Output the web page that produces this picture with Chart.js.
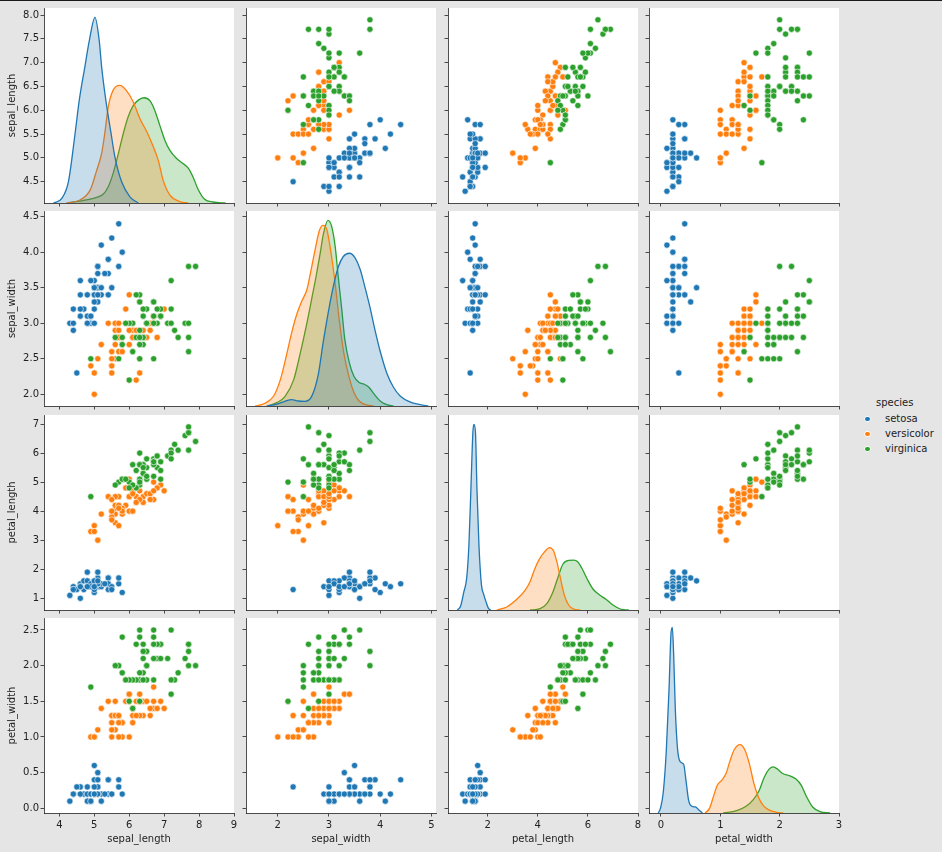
<!DOCTYPE html>
<html>
<head>
<meta charset="utf-8">
<title>Iris pairplot</title>
<script src="https://cdn.jsdelivr.net/npm/chart.js@4.4.0/dist/chart.umd.min.js"></script>
<style>
  html, body { margin: 0; padding: 0; }
  body {
    width: 942px; height: 852px; position: relative; overflow: hidden;
    background: #e5e5e5; font-family: 'DejaVu Sans', sans-serif; color: #222;
  }
  #topline { position: absolute; left: 0; top: 0; width: 942px; height: 1px; background: #1a1a1a; }
  canvas { position: absolute; }
  .lg { position: absolute; font-size: 10px; line-height: 12px; white-space: nowrap; }
  .dot { position: absolute; width: 6.6px; height: 6.6px; border-radius: 50%; box-sizing: border-box; border: 0.5px solid #fff; }
</style>
</head>
<body>
<div id="topline"></div>
<script>
// Iris pairplot — 4x4 grid of small Chart.js charts, diagonal = KDE per species
const varNames = ['sepal_length', 'sepal_width', 'petal_length', 'petal_width'];
const species = ['setosa', 'versicolor', 'virginica'];
const speciesColors = ['#1f77b4', '#ff7f0e', '#2ca02c'];
const speciesFills = ['rgba(31,119,180,0.25)', 'rgba(255,127,14,0.25)', 'rgba(44,160,44,0.25)'];

// measurements per species (same row order in every array)
const setosaSepalLength = [5.1,4.9,4.7,4.6,5.0,5.4,4.6,5.0,4.4,4.9,5.4,4.8,4.8,4.3,5.8,5.7,5.4,5.1,5.7,5.1,5.4,5.1,4.6,5.1,4.8,5.0,5.0,5.2,5.2,4.7,4.8,5.4,5.2,5.5,4.9,5.0,5.5,4.9,4.4,5.1,5.0,4.5,4.4,5.0,5.1,4.8,5.1,4.6,5.3,5.0];
const setosaSepalWidth = [3.5,3.0,3.2,3.1,3.6,3.9,3.4,3.4,2.9,3.1,3.7,3.4,3.0,3.0,4.0,4.4,3.9,3.5,3.8,3.8,3.4,3.7,3.6,3.3,3.4,3.0,3.4,3.5,3.4,3.2,3.1,3.4,4.1,4.2,3.1,3.2,3.5,3.6,3.0,3.4,3.5,2.3,3.2,3.5,3.8,3.0,3.8,3.2,3.7,3.3];
const setosaPetalLength = [1.4,1.4,1.3,1.5,1.4,1.7,1.4,1.5,1.4,1.5,1.5,1.6,1.4,1.1,1.2,1.5,1.3,1.4,1.7,1.5,1.7,1.5,1.0,1.7,1.9,1.6,1.6,1.5,1.4,1.6,1.6,1.5,1.5,1.4,1.5,1.2,1.3,1.4,1.3,1.5,1.3,1.3,1.3,1.6,1.9,1.4,1.6,1.4,1.5,1.4];
const setosaPetalWidth = [0.2,0.2,0.2,0.2,0.2,0.4,0.3,0.2,0.2,0.1,0.2,0.2,0.1,0.1,0.2,0.4,0.4,0.3,0.3,0.3,0.2,0.4,0.2,0.5,0.2,0.2,0.4,0.2,0.2,0.2,0.2,0.4,0.1,0.2,0.2,0.2,0.2,0.1,0.2,0.2,0.3,0.3,0.2,0.6,0.4,0.3,0.2,0.2,0.2,0.2];

const versicolorSepalLength = [7.0,6.4,6.9,5.5,6.5,5.7,6.3,4.9,6.6,5.2,5.0,5.9,6.0,6.1,5.6,6.7,5.6,5.8,6.2,5.6,5.9,6.1,6.3,6.1,6.4,6.6,6.8,6.7,6.0,5.7,5.5,5.5,5.8,6.0,5.4,6.0,6.7,6.3,5.6,5.5,5.5,6.1,5.8,5.0,5.6,5.7,5.7,6.2,5.1,5.7];
const versicolorSepalWidth = [3.2,3.2,3.1,2.3,2.8,2.8,3.3,2.4,2.9,2.7,2.0,3.0,2.2,2.9,2.9,3.1,3.0,2.7,2.2,2.5,3.2,2.8,2.5,2.8,2.9,3.0,2.8,3.0,2.9,2.6,2.4,2.4,2.7,2.7,3.0,3.4,3.1,2.3,3.0,2.5,2.6,3.0,2.6,2.3,2.7,3.0,2.9,2.9,2.5,2.8];
const versicolorPetalLength = [4.7,4.5,4.9,4.0,4.6,4.5,4.7,3.3,4.6,3.9,3.5,4.2,4.0,4.7,3.6,4.4,4.5,4.1,4.5,3.9,4.8,4.0,4.9,4.7,4.3,4.4,4.8,5.0,4.5,3.5,3.8,3.7,3.9,5.1,4.5,4.5,4.7,4.4,4.1,4.0,4.4,4.6,4.0,3.3,4.2,4.2,4.2,4.3,3.0,4.1];
const versicolorPetalWidth = [1.4,1.5,1.5,1.3,1.5,1.3,1.6,1.0,1.3,1.4,1.0,1.5,1.0,1.4,1.3,1.4,1.5,1.0,1.5,1.1,1.8,1.3,1.5,1.2,1.3,1.4,1.4,1.7,1.5,1.0,1.1,1.0,1.2,1.6,1.5,1.6,1.5,1.3,1.3,1.3,1.2,1.4,1.2,1.0,1.3,1.2,1.3,1.3,1.1,1.3];

const virginicaSepalLength = [6.3,5.8,7.1,6.3,6.5,7.6,4.9,7.3,6.7,7.2,6.5,6.4,6.8,5.7,5.8,6.4,6.5,7.7,7.7,6.0,6.9,5.6,7.7,6.3,6.7,7.2,6.2,6.1,6.4,7.2,7.4,7.9,6.4,6.3,6.1,7.7,6.3,6.4,6.0,6.9,6.7,6.9,5.8,6.8,6.7,6.7,6.3,6.5,6.2,5.9];
const virginicaSepalWidth = [3.3,2.7,3.0,2.9,3.0,3.0,2.5,2.9,2.5,3.6,3.2,2.7,3.0,2.5,2.8,3.2,3.0,3.8,2.6,2.2,3.2,2.8,2.8,2.7,3.3,3.2,2.8,3.0,2.8,3.0,2.8,3.8,2.8,2.8,2.6,3.0,3.4,3.1,3.0,3.1,3.1,3.1,2.7,3.2,3.3,3.0,2.5,3.0,3.4,3.0];
const virginicaPetalLength = [6.0,5.1,5.9,5.6,5.8,6.6,4.5,6.3,5.8,6.1,5.1,5.3,5.5,5.0,5.1,5.3,5.5,6.7,6.9,5.0,5.7,4.9,6.7,4.9,5.7,6.0,4.8,4.9,5.6,5.8,6.1,6.4,5.6,5.1,5.6,6.1,5.6,5.5,4.8,5.4,5.6,5.1,5.1,5.9,5.7,5.2,5.0,5.2,5.4,5.1];
const virginicaPetalWidth = [2.5,1.9,2.1,1.8,2.2,2.1,1.7,1.8,1.8,2.5,2.0,1.9,2.1,2.0,2.4,2.3,1.8,2.2,2.3,1.5,2.3,2.0,2.0,1.8,2.1,1.8,1.8,1.8,2.1,1.6,1.9,2.0,2.2,1.5,1.4,2.3,2.4,1.8,1.8,2.1,2.4,2.3,1.9,2.3,2.5,2.3,1.9,2.0,2.3,1.8];

// density curves: [value, density]
const kdeSepalLengthSetosa = [[3.83,0],[4.07,0.0098],[4.26,0.045],[4.45,0.146],[4.57,0.216],[4.73,0.286],[4.86,0.342],[5.02,0.39],[5.14,0.342],[5.21,0.286],[5.33,0.216],[5.48,0.146],[5.59,0.097],[5.78,0.045],[6.02,0.013],[6.26,0]];
const kdeSepalLengthVersicolor = [[4.21,0],[4.59,0.0063],[4.88,0.027],[5.07,0.069],[5.21,0.104],[5.30,0.146],[5.40,0.202],[5.54,0.237],[5.73,0.247],[5.92,0.236],[6.11,0.213],[6.30,0.178],[6.50,0.150],[6.69,0.118],[6.83,0.090],[6.97,0.048],[7.16,0.017],[7.45,0.003],[7.69,0]];
const kdeSepalLengthVirginica = [[4.21,0],[4.69,0.0056],[5.07,0.0119],[5.26,0.0189],[5.40,0.0343],[5.54,0.0623],[5.69,0.104],[5.83,0.146],[5.97,0.181],[6.11,0.204],[6.26,0.216],[6.42,0.221],[6.59,0.215],[6.73,0.195],[6.88,0.162],[7.02,0.132],[7.16,0.111],[7.35,0.094],[7.54,0.083],[7.69,0.073],[7.83,0.054],[7.97,0.029],[8.16,0.0077],[8.40,0.0021],[8.76,0]];

const kdeSepalWidthSetosa = [[1.785,0],[1.98,0.0043],[2.14,0.0101],[2.27,0.0137],[2.40,0.0108],[2.53,0.0101],[2.66,0.0202],[2.79,0.067],[2.89,0.139],[2.99,0.204],[3.09,0.260],[3.18,0.299],[3.28,0.322],[3.40,0.329],[3.51,0.319],[3.61,0.294],[3.70,0.257],[3.80,0.213],[3.90,0.163],[4.00,0.118],[4.13,0.0707],[4.26,0.0404],[4.39,0.0216],[4.58,0.0087],[4.78,0.0029],[4.94,0]];
const kdeSepalWidthVersicolor = [[1.56,0],[1.75,0.0058],[1.92,0.0216],[2.05,0.0562],[2.18,0.114],[2.27,0.157],[2.37,0.197],[2.47,0.226],[2.57,0.251],[2.64,0.287],[2.73,0.337],[2.81,0.377],[2.88,0.389],[2.96,0.379],[3.03,0.337],[3.12,0.265],[3.20,0.186],[3.29,0.114],[3.39,0.0634],[3.49,0.0288],[3.59,0.0108],[3.74,0.0022],[3.87,0]];
const kdeSepalWidthVirginica = [[1.82,0],[1.98,0.0072],[2.14,0.0202],[2.31,0.0562],[2.44,0.114],[2.57,0.179],[2.66,0.229],[2.75,0.280],[2.83,0.330],[2.89,0.370],[2.98,0.40],[3.05,0.388],[3.12,0.345],[3.18,0.280],[3.25,0.208],[3.31,0.143],[3.40,0.0923],[3.49,0.0634],[3.59,0.0505],[3.69,0.0469],[3.78,0.0404],[3.88,0.026],[4.00,0.0108],[4.13,0.0029],[4.26,0]];

const kdePetalLengthSetosa = [[0.79,0],[0.92,0.017],[1.05,0.079],[1.16,0.136],[1.25,0.280],[1.33,0.524],[1.41,0.768],[1.45,0.80],[1.51,0.768],[1.57,0.524],[1.65,0.280],[1.75,0.108],[1.84,0.0675],[1.93,0.0359],[2.03,0.0072],[2.12,0]];
const kdePetalLengthVersicolor = [[2.36,0],[2.76,0.0129],[3.16,0.046],[3.49,0.0847],[3.69,0.122],[3.89,0.180],[4.07,0.220],[4.25,0.248],[4.47,0.269],[4.63,0.254],[4.76,0.208],[4.89,0.144],[5.05,0.0675],[5.23,0.0215],[5.43,0.0043],[5.69,0]];
const kdePetalLengthVirginica = [[3.69,0],[4.09,0.0057],[4.36,0.0273],[4.60,0.0761],[4.79,0.136],[5.00,0.197],[5.23,0.214],[5.43,0.215],[5.59,0.208],[5.76,0.180],[5.96,0.136],[6.20,0.0905],[6.47,0.0646],[6.72,0.046],[7.00,0.0215],[7.29,0.0043],[7.63,0]];

const kdePetalWidthSetosa = [[-0.045,0],[-0.006,0.0345],[0.039,0.136],[0.09,0.406],[0.135,0.794],[0.169,1.161],[0.191,1.2],[0.213,1.032],[0.242,0.665],[0.281,0.406],[0.326,0.330],[0.382,0.315],[0.421,0.211],[0.466,0.082],[0.522,0.043],[0.579,0.039],[0.635,0.0216],[0.702,0]];
const kdePetalWidthVersicolor = [[0.742,0],[0.815,0.028],[0.882,0.104],[0.949,0.179],[1.022,0.211],[1.096,0.255],[1.163,0.337],[1.236,0.410],[1.331,0.442],[1.416,0.406],[1.489,0.319],[1.567,0.190],[1.646,0.099],[1.736,0.043],[1.837,0.017],[1.949,0.0043],[2.06,0]];
const kdePetalWidthVirginica = [[1.05,0],[1.275,0.0151],[1.433,0.0432],[1.556,0.0863],[1.657,0.147],[1.742,0.233],[1.826,0.285],[1.893,0.298],[1.966,0.283],[2.051,0.255],[2.163,0.242],[2.275,0.220],[2.365,0.179],[2.455,0.104],[2.556,0.039],[2.68,0.0086],[2.85,0]];

// tick labels: bottom axes (columns) and left axes (rows)
const sepalLengthXTicks = ['4', '5', '6', '7', '8', '9'];
const sepalWidthXTicks = ['2', '3', '4', '5'];
const petalLengthXTicks = ['2', '4', '6', '8'];
const petalWidthXTicks = ['0', '1', '2', '3'];
const sepalLengthYTicks = ['4.5', '5.0', '5.5', '6.0', '6.5', '7.0', '7.5', '8.0'];
const sepalWidthYTicks = ['2.0', '2.5', '3.0', '3.5', '4.0', '4.5'];
const petalLengthYTicks = ['1', '2', '3', '4', '5', '6', '7'];
const petalWidthYTicks = ['0.0', '0.5', '1.0', '1.5', '2.0', '2.5'];

// axis limits as shown
const xLimits = [[3.56, 9.0], [1.38, 5.09], [0.415, 8.0], [-0.202, 3.0]];
const yLimits = [[4.053, 8.147], [1.835, 4.58], [0.597, 7.31], [-0.066, 2.668]];

// layout of the grid (page pixels)
const colLeft = [44, 246, 448, 649];
const rowTop = [8, 211, 415, 618];
const panelW = 190;
const panelH = 195;

const FONT = 'DejaVu Sans';
const INK = '#222';

const measures = [
  [setosaSepalLength, setosaSepalWidth, setosaPetalLength, setosaPetalWidth],
  [versicolorSepalLength, versicolorSepalWidth, versicolorPetalLength, versicolorPetalWidth],
  [virginicaSepalLength, virginicaSepalWidth, virginicaPetalLength, virginicaPetalWidth],
];
const kdes = [
  [kdeSepalLengthSetosa, kdeSepalLengthVersicolor, kdeSepalLengthVirginica],
  [kdeSepalWidthSetosa, kdeSepalWidthVersicolor, kdeSepalWidthVirginica],
  [kdePetalLengthSetosa, kdePetalLengthVersicolor, kdePetalLengthVirginica],
  [kdePetalWidthSetosa, kdePetalWidthVersicolor, kdePetalWidthVirginica],
];
const xTicks = [sepalLengthXTicks, sepalWidthXTicks, petalLengthXTicks, petalWidthXTicks];
const yTicks = [sepalLengthYTicks, sepalWidthYTicks, petalLengthYTicks, petalWidthYTicks];

// white axes background behind each panel
const panelBg = {
  id: 'panelBg',
  beforeDraw(chart) {
    const { ctx, chartArea: a } = chart;
    ctx.save();
    ctx.fillStyle = '#fff';
    ctx.fillRect(a.left, a.top, a.right - a.left, a.bottom - a.top);
    ctx.restore();
  },
};

function axis(labels, lim, isX, showLabels, title, size) {
  const values = labels.map(Number);
  return {
    type: 'linear',
    display: true,
    position: isX ? 'bottom' : 'left',
    min: lim[0],
    max: lim[1],
    afterBuildTicks: (s) => { s.ticks = values.map((v) => ({ value: v })); },
    afterFit: (s) => {
      // fixed axis band so every plot area lands on the same grid
      if (isX) s.height = size; else s.width = size;
      s.paddingLeft = 0; s.paddingRight = 0; s.paddingTop = 0; s.paddingBottom = 0;
    },
    grid: { drawOnChartArea: false, drawTicks: true, tickLength: 3.5, tickWidth: 0.8, tickColor: INK },
    border: { display: true, color: INK, width: 0.8 },
    ticks: {
      display: showLabels,
      autoSkip: false,
      maxRotation: 0,
      padding: isX ? 2.5 : 1.5,
      color: INK,
      font: { family: FONT, size: 10 },
      callback: (v, i) => labels[i],
    },
    title: {
      display: !!title,
      text: title || '',
      color: INK,
      font: { family: FONT, size: 10, lineHeight: 1.2 },
      padding: isX ? { top: 0, bottom: 7 } : { top: 6.5, bottom: 0 },
    },
  };
}

function makePanel(r, c) {
  const L = c === 0 ? 44 : 10;
  const B = r === 3 ? 39 : 8;
  const T = 6, R = 8;
  const canvas = document.createElement('canvas');
  canvas.width = L + panelW + R;
  canvas.height = T + panelH + B;
  canvas.style.left = (colLeft[c] - L) + 'px';
  canvas.style.top = (rowTop[r] - T) + 'px';
  document.body.appendChild(canvas);

  const scales = {
    x: axis(xTicks[c], xLimits[c], true, r === 3, r === 3 ? varNames[c] : '', B),
    y: axis(yTicks[r], yLimits[r], false, c === 0, c === 0 ? varNames[r] : '', L),
  };

  let datasets;
  if (r === c) {
    // diagonal: filled density per species on its own hidden axis
    const curves = kdes[c];
    const peak = Math.max(...curves.flat().map((p) => p[1]));
    scales.yd = { type: 'linear', display: false, min: 0, max: peak * 1.05 };
    datasets = curves.map((pts, k) => ({
      label: species[k],
      data: pts.map((p) => ({ x: p[0], y: p[1] })),
      yAxisID: 'yd',
      borderColor: speciesColors[k],
      backgroundColor: speciesFills[k],
      borderWidth: 1.3,
      fill: 'origin',
      pointRadius: 0,
      cubicInterpolationMode: 'monotone',
      order: k + 1, // setosa on top, as seaborn layers them
    }));
  } else {
    datasets = measures.map((m, k) => ({
      type: 'scatter',
      label: species[k],
      data: m[c].map((v, i) => ({ x: v, y: m[r][i] })),
      showLine: false,
      pointRadius: 3.1,
      pointBorderWidth: 0.6,
      pointBorderColor: '#fff',
      pointBackgroundColor: speciesColors[k],
      order: 3 - k, // later species drawn over earlier ones
    }));
  }

  // eslint-disable-next-line no-undef
  new Chart(canvas.getContext('2d'), {
    type: 'line',
    data: { datasets },
    options: {
      responsive: false,
      animation: false,
      events: [],
      layout: { padding: { top: T, right: R, left: 0, bottom: 0 } },
      scales,
      plugins: { legend: { display: false }, tooltip: { enabled: false } },
    },
    plugins: [panelBg],
  });
}

function makeLegend() {
  const title = document.createElement('div');
  title.className = 'lg';
  title.textContent = 'species';
  title.style.left = '876px';
  title.style.top = '397px';
  document.body.appendChild(title);
  species.forEach((name, k) => {
    const cy = 419 + k * 15;
    const dot = document.createElement('div');
    dot.className = 'dot';
    dot.style.background = speciesColors[k];
    dot.style.left = (867.7 - 3.3) + 'px';
    dot.style.top = (cy - 3.3) + 'px';
    document.body.appendChild(dot);
    const txt = document.createElement('div');
    txt.className = 'lg';
    txt.textContent = name;
    txt.style.left = '885px';
    txt.style.top = (cy - 6.5) + 'px';
    document.body.appendChild(txt);
  });
}

document.addEventListener('DOMContentLoaded', () => {
  if (!('Chart' in window)) return;
  for (let r = 0; r < 4; r++) {
    for (let c = 0; c < 4; c++) makePanel(r, c);
  }
  makeLegend();
});
</script>
</body>
</html>
